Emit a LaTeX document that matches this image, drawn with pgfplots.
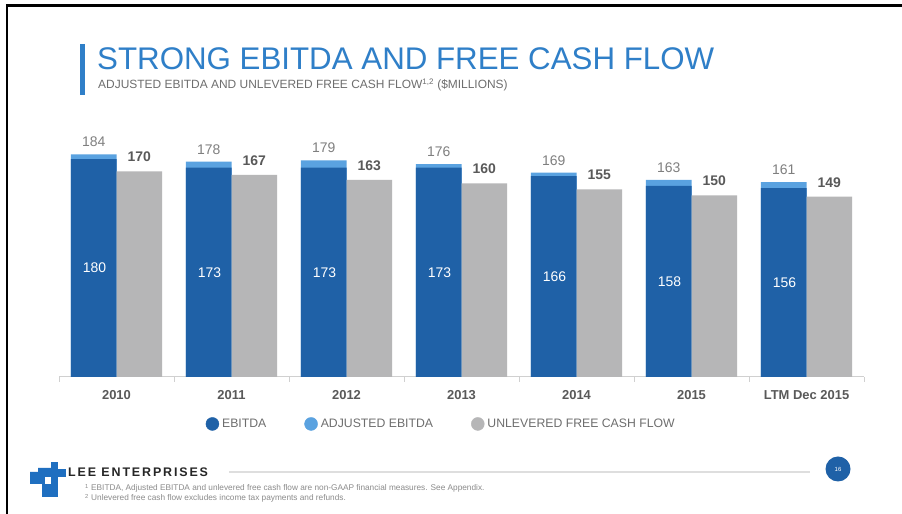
\documentclass[border=0pt]{standalone}
\usepackage{pgfplots}
\pgfplotsset{compat=1.18}
\usepackage{pgfplotstable}
\usepackage{fontspec}
\setmainfont{Liberation Sans}
\definecolor{ebitda}{HTML}{1F61A7}
\definecolor{adj}{HTML}{5AA2E0}
\definecolor{ufcf}{HTML}{B6B6B7}
\definecolor{titleblue}{HTML}{2F7FC8}
\definecolor{txtgray}{HTML}{6E6E6E}
\definecolor{lblgray}{HTML}{595959}
\definecolor{numgray}{HTML}{7F7F7F}
\definecolor{axisgray}{HTML}{D0D0D0}
\definecolor{logoblue}{HTML}{1F6FC0}

\pgfplotstableread{
x ebitda adj ufcf
0 180 184 170
1 173 178 167
2 173 179 163
3 173 176 160
4 166 169 155
5 158 163 150
6 156 161 149
}\data

\begin{document}
\begin{tikzpicture}[x=1bp,y=1bp]
\path[use as bounding box, fill=white] (0,0) rectangle (902,514);
% frame
\draw[black, line width=3bp] (5.75,508) -- (902,508);
\draw[black, line width=2.5bp] (7,509.5) -- (7,0);
% title
\fill[titleblue] (80,419) rectangle (85,470);
\node[anchor=base west, inner sep=0, text=titleblue, font=\fontsize{31.4}{36}\selectfont] at (97,444) {STRONG EBITDA AND FREE CASH FLOW};
\node[anchor=base west, inner sep=0, text=txtgray, font=\fontsize{12}{14}\selectfont] at (98,425) {ADJUSTED EBITDA AND UNLEVERED FREE CASH FLOW\textsuperscript{1,2} (\$MILLIONS)};

\begin{axis}[
  at={(59bp,137bp)}, anchor=south west,
  scale only axis, width=805bp, height=242bp,
  xmin=-0.5, xmax=6.5, ymin=0, ymax=200,
  clip=false,
  axis x line*=bottom, axis y line=none,
  axis line style={draw=axisgray, line width=1bp},
  xtick={0,...,6},
  xticklabels={2010,2011,2012,2013,2014,2015,LTM Dec 2015},
  major tick length=0pt,
  minor xtick={-0.5,0.5,...,6.5},
  minor tick length=5bp,
  tick align=outside,
  minor tick style={draw=axisgray, line width=1bp},
  xticklabel style={anchor=base, yshift=-22.5bp, text=lblgray, font=\bfseries\fontsize{13}{15}\selectfont},
  /pgf/number format/assume math mode=true,
  legend style={at={(axis description cs:0.182,-0.194)}, anchor=west, draw=none, fill=none, inner sep=0pt,
    font=\fontsize{12.3}{14}\selectfont, text=txtgray,
    /tikz/every odd column/.append style={column sep=1bp},
    /tikz/every even column/.append style={column sep=36bp}},
  legend columns=-1,
]
\addplot[ybar, bar width=45.7bp, bar shift=-22.85bp, fill=adj, draw=none, forget plot,
  nodes near coords,
  every node near coord/.append style={anchor=base, inner sep=0pt, xshift=-22.85bp, yshift=7.5bp, text=numgray, font=\fontsize{14}{16}\selectfont}]
  table[x=x, y=adj]{\data};
\addplot[ybar, bar width=45.7bp, bar shift=-22.85bp, fill=ebitda, draw=none, forget plot]
  table[x=x, y=ebitda]{\data};
\addplot[ybar, bar width=45.7bp, bar shift=22.85bp, fill=ufcf, draw=none, forget plot,
  nodes near coords,
  every node near coord/.append style={anchor=base, inner sep=0pt, xshift=22.85bp, yshift=9.5bp, text=lblgray, font=\bfseries\fontsize{14}{16}\selectfont}]
  table[x=x, y=ufcf]{\data};
\addplot[draw=none, mark=none, forget plot,
  nodes near coords, point meta=explicit,
  every node near coord/.append style={anchor=center, inner sep=0pt, xshift=-22bp, text=white, font=\fontsize{14}{16}\selectfont}]
  table[x=x, y expr=\thisrow{ebitda}/2, meta=ebitda]{\data};

\addlegendimage{legend image code/.code={\fill[ebitda] (6.5bp,0) circle (6.5bp);}}
\addlegendentry{EBITDA}
\addlegendimage{legend image code/.code={\fill[adj] (6.5bp,0) circle (6.5bp);}}
\addlegendentry{ADJUSTED EBITDA}
\addlegendimage{legend image code/.code={\fill[ufcf] (6.5bp,0) circle (6.5bp);}}
\addlegendentry{UNLEVERED FREE CASH FLOW}
\end{axis}

% footer logo
\fill[logoblue] (51,30) rectangle (58,52);
\fill[logoblue] (58,37) rectangle (66,45);
\fill[logoblue] (30,30) -- (30,42) -- (38,42) -- (38,46) -- (51,46) -- (51,30) -- cycle;
\fill[logoblue] (42,17) rectangle (58,31);
\fill[white] (45,30) rectangle (51,37);
\node[anchor=base west, inner sep=0, text=black!85, font=\bfseries\fontsize{12.5}{15}\selectfont\addfontfeatures{LetterSpace=15}] at (68,37) {LEE ENTERPRISES};
\draw[axisgray!70, line width=1.5bp] (229,42) -- (810,42);
\fill[ebitda] (838,45) circle (12.5);
\node[text=white, font=\fontsize{6}{7}\selectfont] at (838,45) {16};
\node[anchor=base west, inner sep=0, text=txtgray!80, font=\fontsize{8.3}{9}\selectfont] at (85,23) {\textsuperscript{1} EBITDA, Adjusted EBITDA and unlevered free cash flow are non-GAAP financial measures. See Appendix.};
\node[anchor=base west, inner sep=0, text=txtgray!80, font=\fontsize{8.3}{9}\selectfont] at (85,13) {\textsuperscript{2} Unlevered free cash flow excludes income tax payments and refunds.};
\end{tikzpicture}
\end{document}
